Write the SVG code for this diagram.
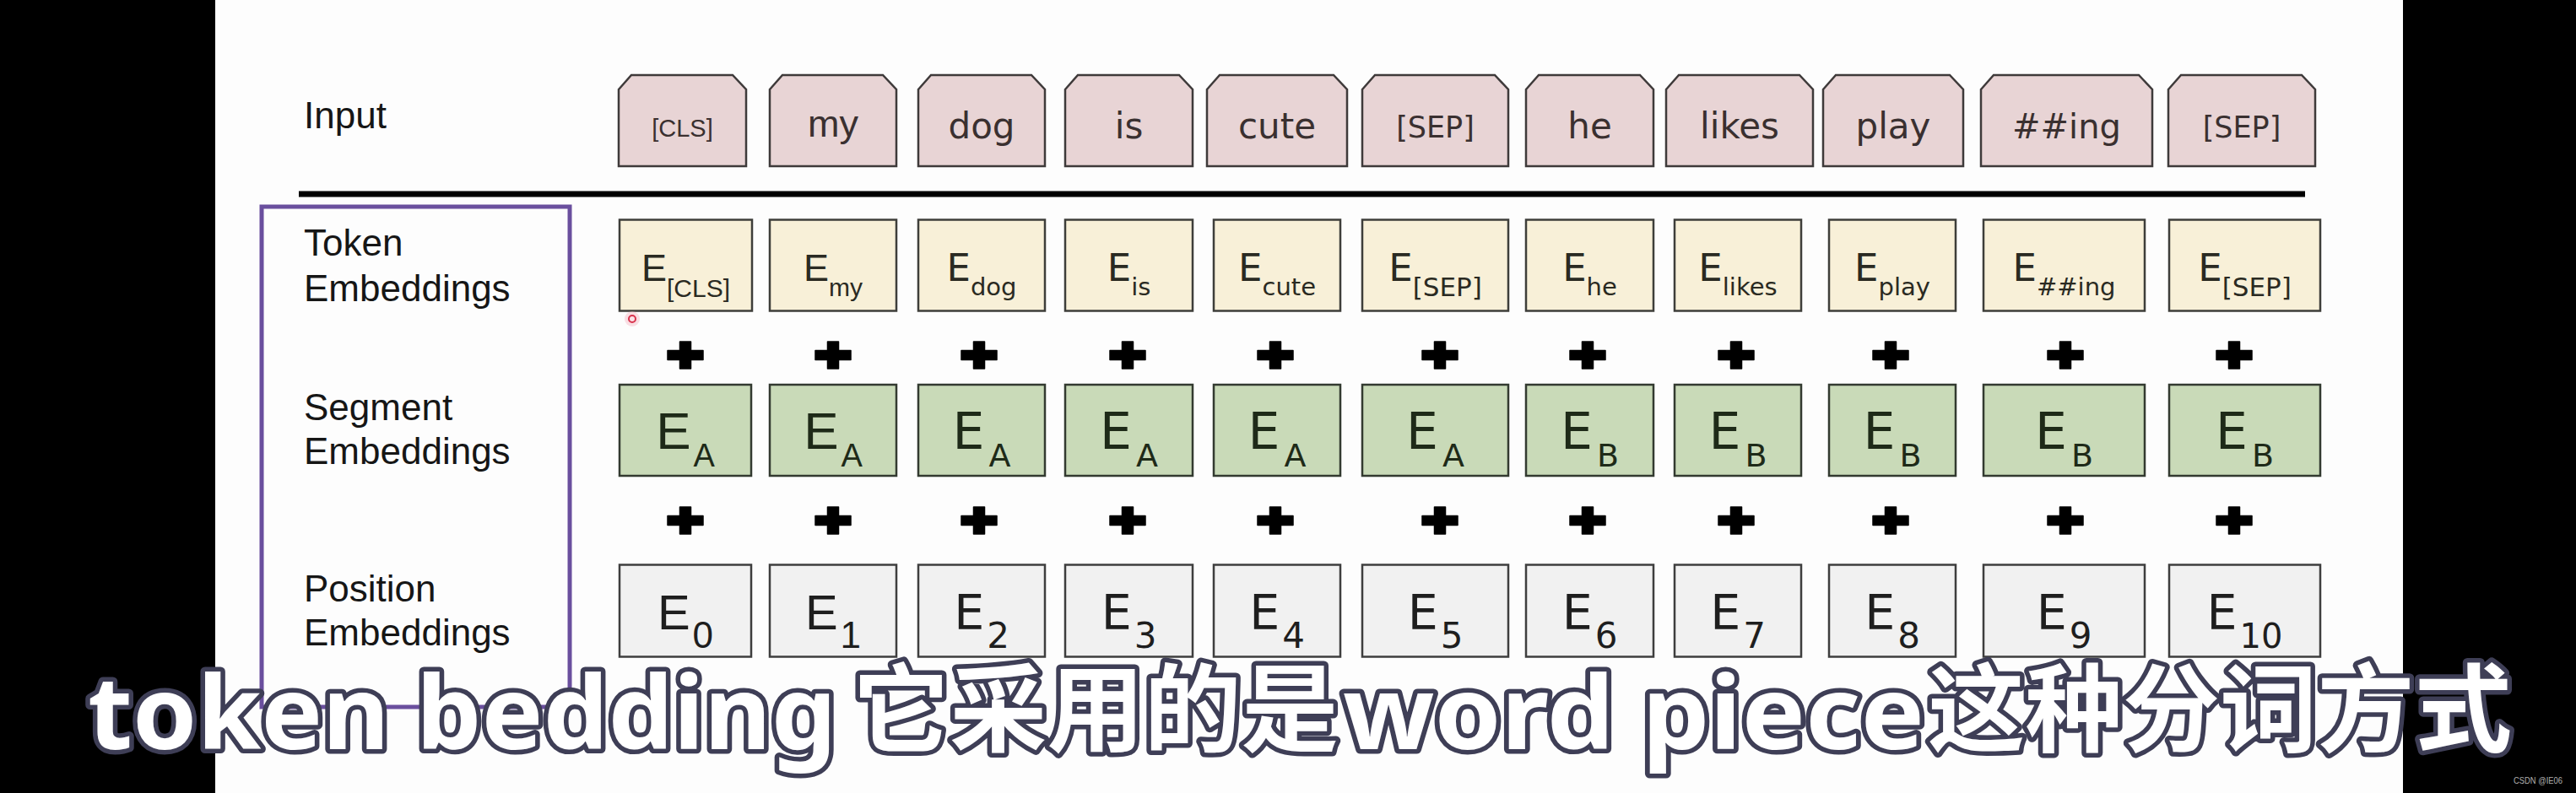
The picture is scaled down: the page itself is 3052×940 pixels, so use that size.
<svg xmlns="http://www.w3.org/2000/svg" width="3052" height="940" viewBox="0 0 3052 940">
  <style>
    .lbl { font-family: "Liberation Sans", Arial, sans-serif; font-size: 44px; fill: #161616; }
    .ar { font-family: "Liberation Sans", Arial, sans-serif; }
    .dv { font-family: "DejaVu Sans", Verdana, sans-serif; }
    .inp { fill: #e8d4d5; stroke: #3e3a3a; stroke-width: 2.5; }
    .tok { fill: #f8f0d8; stroke: #3e3e3a; stroke-width: 2.5; }
    .seg { fill: #c9dab8; stroke: #333a30; stroke-width: 2.5; }
    .pos { fill: #f1f1f1; stroke: #3e3e3e; stroke-width: 2.5; }
    .it { fill: #3a3030; text-anchor: middle; }
    .et { fill: #2a2a22; text-anchor: middle; }
    .es { fill: #1e2a18; text-anchor: middle; }
    .ep { fill: #1e1e1e; text-anchor: middle; }
    .sub { font-family: "Noto Sans", "Noto Sans CJK SC", sans-serif; font-weight: 700; fill: #ffffff; stroke: #3e3e56; stroke-width: 11; stroke-linejoin: round; paint-order: stroke; }
    .cjk { font-family: "Noto Sans CJK SC", "Noto Sans", sans-serif; }
  </style>
  <defs>
    <path id="plus" d="M-6.5,-16 H6.5 V-5.5 H21 V5.5 H6.5 V16 H-6.5 V5.5 H-21 V-5.5 H-6.5 Z" fill="#000" stroke="#000" stroke-width="1.5" stroke-linejoin="round"/>
  </defs>

  <!-- background -->
  <rect x="0" y="0" width="3052" height="940" fill="#000"/>
  <rect x="255" y="0" width="2592" height="940" fill="#fdfdfd"/>

  <!-- row labels -->
  <g id="label-input"><text class="lbl" x="360" y="152">Input</text></g>
  <g id="label-token"><text class="lbl" x="360" y="303">Token</text><text class="lbl" x="360" y="357">Embeddings</text></g>
  <g id="label-segment"><text class="lbl" x="360" y="498">Segment</text><text class="lbl" x="360" y="550">Embeddings</text></g>
  <g id="label-position"><text class="lbl" x="360" y="713">Position</text><text class="lbl" x="360" y="765">Embeddings</text></g>

  <!-- purple bracket box around embedding labels -->
  <g id="embedding-group-box"><rect x="310" y="245" width="365" height="593" fill="none" stroke="#6a4f9e" stroke-width="5"/></g>

  <!-- separator line -->
  <g id="connectors">
    <line x1="354" y1="230" x2="2731" y2="230" stroke="#000" stroke-width="7"/>
  </g>

  <!-- input tokens -->
  <g id="input-0"><path class="inp" d="M733,106 L748,89 L868,89 L884,106 L884,197 L733,197 Z"/><text class="it ar" x="808.5" y="162" font-size="29">[CLS]</text></g>
  <g id="input-1"><path class="inp" d="M912,106 L927,89 L1046,89 L1062,106 L1062,197 L912,197 Z"/><text class="it ar" x="987" y="162" font-size="45">my</text></g>
  <g id="input-2"><path class="inp" d="M1088,106 L1103,89 L1222,89 L1238,106 L1238,197 L1088,197 Z"/><text class="it dv" x="1163" y="164" font-size="42">dog</text></g>
  <g id="input-3"><path class="inp" d="M1262,106 L1277,89 L1397,89 L1413,106 L1413,197 L1262,197 Z"/><text class="it dv" x="1337.5" y="164" font-size="42">is</text></g>
  <g id="input-4"><path class="inp" d="M1430,106 L1445,89 L1580,89 L1596,106 L1596,197 L1430,197 Z"/><text class="it dv" x="1513" y="164" font-size="42">cute</text></g>
  <g id="input-5"><path class="inp" d="M1614,106 L1629,89 L1771,89 L1787,106 L1787,197 L1614,197 Z"/><text class="it dv" x="1700.5" y="163" font-size="35">[SEP]</text></g>
  <g id="input-6"><path class="inp" d="M1808,106 L1823,89 L1943,89 L1959,106 L1959,197 L1808,197 Z"/><text class="it dv" x="1883.5" y="164" font-size="42">he</text></g>
  <g id="input-7"><path class="inp" d="M1974,106 L1989,89 L2132,89 L2148,106 L2148,197 L1974,197 Z"/><text class="it dv" x="2061" y="164" font-size="42">likes</text></g>
  <g id="input-8"><path class="inp" d="M2160,106 L2175,89 L2310,89 L2326,106 L2326,197 L2160,197 Z"/><text class="it dv" x="2243" y="164" font-size="42">play</text></g>
  <g id="input-9"><path class="inp" d="M2347,106 L2362,89 L2534,89 L2550,106 L2550,197 L2347,197 Z"/><text class="it dv" x="2448.5" y="164" font-size="40">##ing</text></g>
  <g id="input-10"><path class="inp" d="M2569,106 L2584,89 L2727,89 L2743,106 L2743,197 L2569,197 Z"/><text class="it dv" x="2656" y="163" font-size="35">[SEP]</text></g>

  <!-- token embeddings -->
  <g id="tok-0"><rect class="tok" x="734" y="260.5" width="157" height="108"/><text class="et ar" x="812.5" y="333" font-size="45">E<tspan dy="19" font-size="30">[CLS]</tspan></text></g>
  <g id="tok-1"><rect class="tok" x="912" y="260.5" width="150" height="108"/><text class="et ar" x="987" y="333" font-size="45">E<tspan dy="18" font-size="30">my</tspan></text></g>
  <g id="tok-2"><rect class="tok" x="1088" y="260.5" width="150" height="108"/><text class="et dv" x="1163" y="333" font-size="45">E<tspan dy="17" font-size="29">dog</tspan></text></g>
  <g id="tok-3"><rect class="tok" x="1262" y="260.5" width="151" height="108"/><text class="et dv" x="1337.5" y="333" font-size="45">E<tspan dy="17" font-size="29">is</tspan></text></g>
  <g id="tok-4"><rect class="tok" x="1438" y="260.5" width="150" height="108"/><text class="et dv" x="1513" y="333" font-size="45">E<tspan dy="17" font-size="29">cute</tspan></text></g>
  <g id="tok-5"><rect class="tok" x="1614" y="260.5" width="173" height="108"/><text class="et dv" x="1700.5" y="333" font-size="45">E<tspan dy="18" font-size="31">[SEP]</tspan></text></g>
  <g id="tok-6"><rect class="tok" x="1808" y="260.5" width="151" height="108"/><text class="et dv" x="1883.5" y="333" font-size="45">E<tspan dy="17" font-size="29">he</tspan></text></g>
  <g id="tok-7"><rect class="tok" x="1984" y="260.5" width="150" height="108"/><text class="et dv" x="2059" y="333" font-size="45">E<tspan dy="17" font-size="29">likes</tspan></text></g>
  <g id="tok-8"><rect class="tok" x="2167" y="260.5" width="150" height="108"/><text class="et dv" x="2242" y="333" font-size="45">E<tspan dy="17" font-size="29">play</tspan></text></g>
  <g id="tok-9"><rect class="tok" x="2350" y="260.5" width="191" height="108"/><text class="et dv" x="2445.5" y="333" font-size="45">E<tspan dy="17" font-size="29">##ing</tspan></text></g>
  <g id="tok-10"><rect class="tok" x="2570" y="260.5" width="179" height="108"/><text class="et dv" x="2659.5" y="333" font-size="45">E<tspan dy="18" font-size="31">[SEP]</tspan></text></g>

  <!-- plus signs -->
  <g id="plus-signs">
    <use href="#plus" x="812" y="421"/><use href="#plus" x="987" y="421"/><use href="#plus" x="1160" y="421"/><use href="#plus" x="1336" y="421"/><use href="#plus" x="1511" y="421"/><use href="#plus" x="1706" y="421"/><use href="#plus" x="1881" y="421"/><use href="#plus" x="2057" y="421"/><use href="#plus" x="2240" y="421"/><use href="#plus" x="2447" y="421"/><use href="#plus" x="2647" y="421"/>
    <use href="#plus" x="812" y="617"/><use href="#plus" x="987" y="617"/><use href="#plus" x="1160" y="617"/><use href="#plus" x="1336" y="617"/><use href="#plus" x="1511" y="617"/><use href="#plus" x="1706" y="617"/><use href="#plus" x="1881" y="617"/><use href="#plus" x="2057" y="617"/><use href="#plus" x="2240" y="617"/><use href="#plus" x="2447" y="617"/><use href="#plus" x="2647" y="617"/>
  </g>

  <!-- segment embeddings -->
  <g id="seg-0"><rect class="seg" x="734" y="456" width="156" height="108"/><text class="es ar" x="812" y="532" font-size="62">E<tspan dx="3" dy="21" font-size="38">A</tspan></text></g>
  <g id="seg-1"><rect class="seg" x="912" y="456" width="150" height="108"/><text class="es ar" x="987" y="532" font-size="62">E<tspan dx="3" dy="21" font-size="38">A</tspan></text></g>
  <g id="seg-2"><rect class="seg" x="1088" y="456" width="150" height="108"/><text class="es dv" x="1163" y="532" font-size="60">E<tspan dx="5" dy="21" font-size="38">A</tspan></text></g>
  <g id="seg-3"><rect class="seg" x="1262" y="456" width="151" height="108"/><text class="es dv" x="1337.5" y="532" font-size="60">E<tspan dx="5" dy="21" font-size="38">A</tspan></text></g>
  <g id="seg-4"><rect class="seg" x="1438" y="456" width="150" height="108"/><text class="es dv" x="1513" y="532" font-size="60">E<tspan dx="5" dy="21" font-size="38">A</tspan></text></g>
  <g id="seg-5"><rect class="seg" x="1614" y="456" width="173" height="108"/><text class="es dv" x="1700.5" y="532" font-size="60">E<tspan dx="5" dy="21" font-size="38">A</tspan></text></g>
  <g id="seg-6"><rect class="seg" x="1808" y="456" width="151" height="108"/><text class="es dv" x="1883.5" y="532" font-size="60">E<tspan dx="5" dy="21" font-size="38">B</tspan></text></g>
  <g id="seg-7"><rect class="seg" x="1984" y="456" width="150" height="108"/><text class="es dv" x="2059" y="532" font-size="60">E<tspan dx="5" dy="21" font-size="38">B</tspan></text></g>
  <g id="seg-8"><rect class="seg" x="2167" y="456" width="150" height="108"/><text class="es dv" x="2242" y="532" font-size="60">E<tspan dx="5" dy="21" font-size="38">B</tspan></text></g>
  <g id="seg-9"><rect class="seg" x="2350" y="456" width="191" height="108"/><text class="es dv" x="2445.5" y="532" font-size="60">E<tspan dx="5" dy="21" font-size="38">B</tspan></text></g>
  <g id="seg-10"><rect class="seg" x="2570" y="456" width="179" height="108"/><text class="es dv" x="2659.5" y="532" font-size="60">E<tspan dx="5" dy="21" font-size="38">B</tspan></text></g>

  <!-- position embeddings -->
  <g id="pos-0"><rect class="pos" x="734" y="669.5" width="156" height="109"/><text class="ep ar" x="812" y="746" font-size="58">E<tspan dx="3" dy="22" font-size="44">0</tspan></text></g>
  <g id="pos-1"><rect class="pos" x="912" y="669.5" width="150" height="109"/><text class="ep ar" x="987" y="746" font-size="58">E<tspan dx="3" dy="22" font-size="44">1</tspan></text></g>
  <g id="pos-2"><rect class="pos" x="1088" y="669.5" width="150" height="109"/><text class="ep dv" x="1163" y="746" font-size="57">E<tspan dx="3" dy="22" font-size="42">2</tspan></text></g>
  <g id="pos-3"><rect class="pos" x="1262" y="669.5" width="151" height="109"/><text class="ep dv" x="1337.5" y="746" font-size="57">E<tspan dx="3" dy="22" font-size="42">3</tspan></text></g>
  <g id="pos-4"><rect class="pos" x="1438" y="669.5" width="150" height="109"/><text class="ep dv" x="1513" y="746" font-size="57">E<tspan dx="3" dy="22" font-size="42">4</tspan></text></g>
  <g id="pos-5"><rect class="pos" x="1614" y="669.5" width="173" height="109"/><text class="ep dv" x="1700.5" y="746" font-size="57">E<tspan dx="3" dy="22" font-size="42">5</tspan></text></g>
  <g id="pos-6"><rect class="pos" x="1808" y="669.5" width="151" height="109"/><text class="ep dv" x="1883.5" y="746" font-size="57">E<tspan dx="3" dy="22" font-size="42">6</tspan></text></g>
  <g id="pos-7"><rect class="pos" x="1984" y="669.5" width="150" height="109"/><text class="ep dv" x="2059" y="746" font-size="57">E<tspan dx="3" dy="22" font-size="42">7</tspan></text></g>
  <g id="pos-8"><rect class="pos" x="2167" y="669.5" width="150" height="109"/><text class="ep dv" x="2242" y="746" font-size="57">E<tspan dx="3" dy="22" font-size="42">8</tspan></text></g>
  <g id="pos-9"><rect class="pos" x="2350" y="669.5" width="191" height="109"/><text class="ep dv" x="2445.5" y="746" font-size="57">E<tspan dx="3" dy="22" font-size="42">9</tspan></text></g>
  <g id="pos-10"><rect class="pos" x="2570" y="669.5" width="179" height="109"/><text class="ep dv" x="2659.5" y="746" font-size="57">E<tspan dx="3" dy="22" font-size="40">10</tspan></text></g>

  <!-- cursor mark -->
  <g id="cursor"><circle cx="749" cy="378" r="9" fill="#f4b8c4" opacity="0.45"/><circle cx="749" cy="378" r="4" fill="#fbe3e8" stroke="#d8324c" stroke-width="2"/></g>

  <!-- subtitle -->
  <g id="subtitle">
    <text class="sub" font-size="120"><tspan x="104" y="888" textLength="887" lengthAdjust="spacingAndGlyphs">token bedding</tspan><tspan class="cjk" x="1010" y="882" font-size="114" textLength="576" lengthAdjust="spacingAndGlyphs">它采用的是</tspan><tspan x="1591" y="888" textLength="689" lengthAdjust="spacingAndGlyphs">word piece</tspan><tspan class="cjk" x="2284" y="882" font-size="114" textLength="692" lengthAdjust="spacingAndGlyphs">这种分词方式</tspan></text>
  </g>

  <!-- watermark -->
  <g id="watermark"><text x="2978" y="929" font-family="Liberation Sans, Arial, sans-serif" font-size="11" fill="#b0b0b0" textLength="58" lengthAdjust="spacingAndGlyphs">CSDN @IE06</text></g>
</svg>
